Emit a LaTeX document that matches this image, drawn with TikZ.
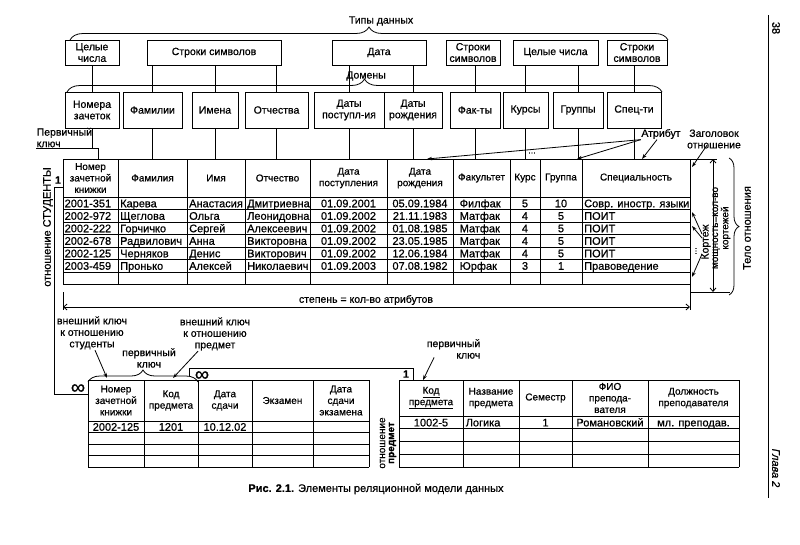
\documentclass[tikz,border=0pt]{standalone}
\usepackage{fontspec}
\setmainfont{Liberation Sans}[RawFeature={embolden=0.6}]
\usetikzlibrary{arrows.meta,decorations.pathreplacing}
\newcommand\fB{\fontsize{10.5}{11.5}\selectfont}
\newcommand\fH{\fontsize{10}{11.5}\selectfont}
\newcommand\fD{\fontsize{11}{12}\selectfont}
\newcommand\fS{\fontsize{9}{8.5}\selectfont}
\newcommand\fM{\fontsize{10}{9}\selectfont}
\newcommand\fI{\fontsize{20}{20}\selectfont}
\begin{document}
\begin{tikzpicture}[x=1pt,y=-1pt,
  every node/.style={inner sep=0.5pt},
  box/.style={draw, line width=0.9pt, align=center, inner sep=1pt, font=\fB},
  ln/.style={line width=0.8pt},
  grid/.style={line width=1pt},
  hd/.style={align=center, font=\fH},
  dc/.style={font=\fD, text height=8pt, text depth=0pt},
  lab/.style={align=center, font=\fB},
  inf/.style={font=\fI, inner sep=0pt},
  arr/.style={line width=0.8pt, -{Stealth[length=5pt,width=3.5pt]}},
  dim/.style={line width=0.8pt, {Straight Barb[length=3.5pt,width=6pt]}-{Straight Barb[length=3.5pt,width=6pt]}},
  brc/.style={line width=0.8pt, decorate, decoration={brace, amplitude=#1}},
]
\useasboundingbox (0,0) rectangle (800,544);
\fill[white] (0,0) rectangle (800,544);

% ---------- data types ----------
\node[lab] (typ) at (381,21) {Типы данных};
\draw[brc=13] (70,40) -- (668,40);
\node[box, minimum width=54pt, minimum height=25pt] (t1) at (92,52.5) {Целые\\числа};
\node[box, minimum width=134pt, minimum height=25pt] (t2) at (214,52.5) {Строки символов};
\node[box, minimum width=94pt, minimum height=25pt] (t3) at (379,52.5) {Дата};
\node[box, minimum width=54pt, minimum height=25pt] (t4) at (473,52.5) {Строки\\символов};
\node[box, minimum width=85pt, minimum height=25pt] (t5) at (555.5,52.5) {Целые числа};
\node[box, minimum width=60pt, minimum height=25pt] (t6) at (637,52.5) {Строки\\символов};

% ---------- domains ----------
\node[lab] (dom) at (366,76) {Домены};
\draw[brc=13] (67,92) -- (662,92);
\node[box, minimum width=54pt, minimum height=36pt] (dm1) at (92,110) {Номера\\зачеток};
\node[box, minimum width=59pt, minimum height=36pt] (dm2) at (152.5,110) {Фамилии};
\node[box, minimum width=46pt, minimum height=36pt] (dm3) at (215,110) {Имена};
\node[box, minimum width=63pt, minimum height=36pt] (dm4) at (276.5,110) {Отчества};
\node[box, minimum width=70pt, minimum height=36pt] (dm5) at (349,110) {Даты\\поступл-ия};
\node[box, minimum width=58pt, minimum height=36pt] (dm6) at (413,110) {Даты\\рождения};
\node[box, minimum width=50pt, minimum height=36pt] (dm7) at (475,110) {Фак-ты};
\node[box, minimum width=45pt, minimum height=36pt] (dm8) at (525.5,110) {Курсы};
\node[box, minimum width=50pt, minimum height=36pt] (dm9) at (578,110) {Группы};
\node[box, minimum width=54pt, minimum height=36pt] (dm10) at (634,110) {Спец-ти};

\draw[ln] (t1) -- (dm1);
\foreach \a/\b in {t2/dm2,t2/dm3,t2/dm4,t3/dm5,t3/dm6,t4/dm7,t5/dm8,t5/dm9,t6/dm10}
  \draw[ln] (\a.south -| \b.north) -- (\b.north);

\coordinate (TT) at (0,159);
\foreach \b in {dm2,dm3,dm4,dm5,dm6,dm7,dm8,dm9,dm10}
  \draw[ln] (\b.south) -- (\b.south |- TT);

% primary key of main table
\node[anchor=south west, align=left, font=\fB] (pk1) at (36,148) {Первичный\\ключ};
\coordinate (K1) at (98,159);
\draw[ln] (pk1.south west) -- (pk1.south west -| K1) -- (K1);
\draw[ln] (dm1.south) -- (dm1.south |- pk1.south west);

% ---------- main table ----------
\foreach \x in {63,118,187,245,310,387,453,510,540,582,690}
  \draw[grid] (\x,159) -- (\x,284.5);
\foreach \y in {159,197,209.5,222,234.5,247,259.5,272,284.5}
  \draw[grid] (63,\y) -- (690,\y);

\foreach \x/\t [count=\k] in {90.5/{Номер\\зачетной\\книжки}, 152.5/Фамилия, 216/Имя, 277.5/Отчество,
   348.5/{Дата\\поступления}, 420/{Дата\\рождения}, 481.5/Факультет, 525/Курс, 561/Группа, 636/Специальность}
  \node[hd] (h\k) at (\x,178) {\t};

\foreach \y/\ca/\cb/\cc/\cd/\ce/\cf/\cg/\ch/\ci/\cj [count=\k] in {
 203.25/2001-351/Карева/Анастасия/Дмитриевна/01.09.2001/05.09.1984/Филфак/5/10/Совр. иностр. языки,
 215.75/2002-972/Щеглова/Ольга/Леонидовна/01.09.2002/21.11.1983/Матфак/4/5/ПОИТ,
 228.25/2002-222/Горчичко/Сергей/Алексеевич/01.09.2002/01.08.1985/Матфак/4/5/ПОИТ,
 240.75/2002-678/Радвилович/Анна/Викторовна/01.09.2002/23.05.1985/Матфак/4/5/ПОИТ,
 253.25/2002-125/Черняков/Денис/Викторович/01.09.2002/12.06.1984/Матфак/4/5/ПОИТ,
 265.75/2003-459/Пронько/Алексей/Николаевич/01.09.2003/07.08.1982/Юрфак/3/1/Правоведение}
{
  \node[dc, anchor=west] (r\k-1) at (64,\y) {\ca};
  \node[dc, anchor=west] (r\k-2) at (119.5,\y) {\cb};
  \node[dc, anchor=west] (r\k-3) at (188.5,\y) {\cc};
  \node[dc, anchor=west] (r\k-4) at (246.5,\y) {\cd};
  \node[dc] (r\k-5) at (348.5,\y) {\ce};
  \node[dc] (r\k-6) at (420,\y) {\cf};
  \node[dc, anchor=west] (r\k-7) at (459,\y) {\cg};
  \node[dc] (r\k-8) at (525,\y) {\ch};
  \node[dc] (r\k-9) at (561,\y) {\ci};
  \node[dc, anchor=west] (r\k-10) at (583.5,\y) {\cj};
}

% attribute / header labels
\node[font=\fB] (atr) at (661,134) {Атрибут};
\coordinate (A1) at (427,159);
\coordinate (A2) at (577,159);
\coordinate (A3) at (642,159);
\draw[arr] (atr.south west) -- (A1);
\draw[arr] (atr.south west) -- (A2);
\draw[arr] ([xshift=-4pt]atr.south) -- (A3);
\node[font=\fS] (dots1) at (532,153) {...};

\node[align=center, font=\fB] (zag) at (714,139) {Заголовок\\отношение};
\coordinate (Z1) at (692,167);
\draw[arr] ([xshift=-7pt,yshift=4pt]zag.south) -- (Z1);

% tuples
\node[rotate=90, font=\fB] (kor) at (706,242) {Кортеж};
\coordinate (R1) at (692,212);
\coordinate (R2) at (692,226);
\coordinate (R3) at (692,277);
\draw[arr] ([shift={(-4pt,8pt)}]kor.center) -- (R1);
\draw[arr] ([shift={(-4pt,4pt)}]kor.center) -- (R2);
\draw[arr] ([shift={(-4pt,-12pt)}]kor.center) -- (R3);
\node[rotate=90, font=\fS] (dots2) at (696,251) {...};

% cardinality
\draw[ln] (690,159) -- (717,159);
\draw[ln] (690,284.5) -- (690,310);
\draw[ln] (690,292) -- (730,292);
\coordinate (M1) at (713,159);
\coordinate (M2) at (713,292);
\draw[dim] (M1) -- (M2);
\node[rotate=90, align=center, font=\fM] (mosh) at (721.5,228) {мощность=кол-во\\кортежей};

% body of relation
\draw[brc=10] (729,158) -- (729,295);
\node[rotate=90, font=\fD] (telo) at (747,228) {Тело отношения};

% degree
\draw[ln] (63,292) -- (63,310);
\coordinate (S1) at (63,307);
\coordinate (S2) at (690,307);
\draw[dim] (S1) -- (S2);
\node[font=\fB] (deg) at (366,300) {степень = кол-во атрибутов};

% relation STUDENTS link
\node[rotate=90, font=\fD] (rstud) at (48,227) {отношение СТУДЕНТЫ};
\node[font=\fB] (one1) at (58,180) {\textbf{1}};
\coordinate (L1) at (63,187);
\coordinate (L2) at (88,394);
\draw[ln] (L1) -- (54,187) |- (L2);
\node[inf] (inf1) at (78,389) {∞};

% ---------- grades table ----------
\foreach \x in {88,144,198,252,313,369}
  \draw[grid] (\x,380) -- (\x,467);
\foreach \y in {380,421,432.5,444,455.5,467}
  \draw[grid] (88,\y) -- (369,\y);
\foreach \x/\t [count=\k] in {116/{Номер\\зачетной\\книжки}, 171/{Код\\предмета}, 225/{Дата\\сдачи},
   282.5/Экзамен, 341/{Дата\\сдачи\\экзамена}}
  \node[hd] (gh\k) at (\x,400.5) {\t};
\node[dc] (gd1) at (116,426.75) {2002-125};
\node[dc] (gd2) at (171,426.75) {1201};
\node[dc] (gd3) at (225,426.75) {10.12.02};

\draw[brc=12] (88,382) -- (198,382);
\node[lab] (pk2) at (149,358) {первичный\\ключ};

\node[lab] (vk1) at (92,333) {внешний ключ\\к отношению\\студенты};
\coordinate (V1) at (107,378);
\draw[arr] ([xshift=3pt]vk1.south) -- (V1);
\node[lab] (vk2) at (215,334) {внешний ключ\\к отношению\\предмет};
\coordinate (V2) at (173,378);
\draw[arr] ([xshift=-17pt]vk2.south) -- (V2);

% link grades -> subjects
\coordinate (G1) at (189,376);
\coordinate (P1) at (413,380);
\draw[ln] (G1) -- (189,368) -| (P1);
\node[inf] (inf2) at (202,376) {∞};
\node[font=\fB] (one2) at (406,374) {\textbf{1}};

% ---------- subjects table ----------
\foreach \x in {399,463,519,572,648,739}
  \draw[grid] (\x,380) -- (\x,467);
\foreach \y in {380,416,428.75,441.5,454.25,467}
  \draw[grid] (399,\y) -- (739,\y);
\foreach \x/\t [count=\k] in {431/{\underline{Код}\\\underline{предмета}}, 491/{Название\\предмета}, 545.5/Семестр,
   610/{ФИО\\препода-\\вателя}, 693.5/{Должность\\преподавателя}}
  \node[hd] (ph\k) at (\x,398) {\t};
\node[dc] (pd1) at (431,422.4) {1002-5};
\node[dc, anchor=west] (pd2) at (465,422.4) {Логика};
\node[dc] (pd3) at (545.5,422.4) {1};
\node[dc] (pd4) at (610,422.4) {Романовский};
\node[dc] (pd5) at (693.5,422.4) {мл. преподав.};

\node[rotate=90, align=center, font=\fM] (rpred) at (388,443) {отношение\\\textbf{предмет}};

\node[anchor=east, align=right, font=\fB] (pk3) at (481,349) {первичный\\ключ};
\coordinate (V3) at (423,380);
\draw[arr] ([xshift=8pt,yshift=2pt]pk3.south west) -- (V3);

% ---------- caption and page marks ----------
\node[font=\fD] (cap) at (376,489) {\textbf{Рис. 2.1.} Элементы реляционной модели данных};
\draw[line width=0.6pt] (768,15) -- (768,498);
\node[rotate=-90, font=\fD] (pg) at (776,28) {38};
\node[rotate=-90, font=\fD\itshape] (chap) at (776,468) {Глава 2};
\end{tikzpicture}
\end{document}
